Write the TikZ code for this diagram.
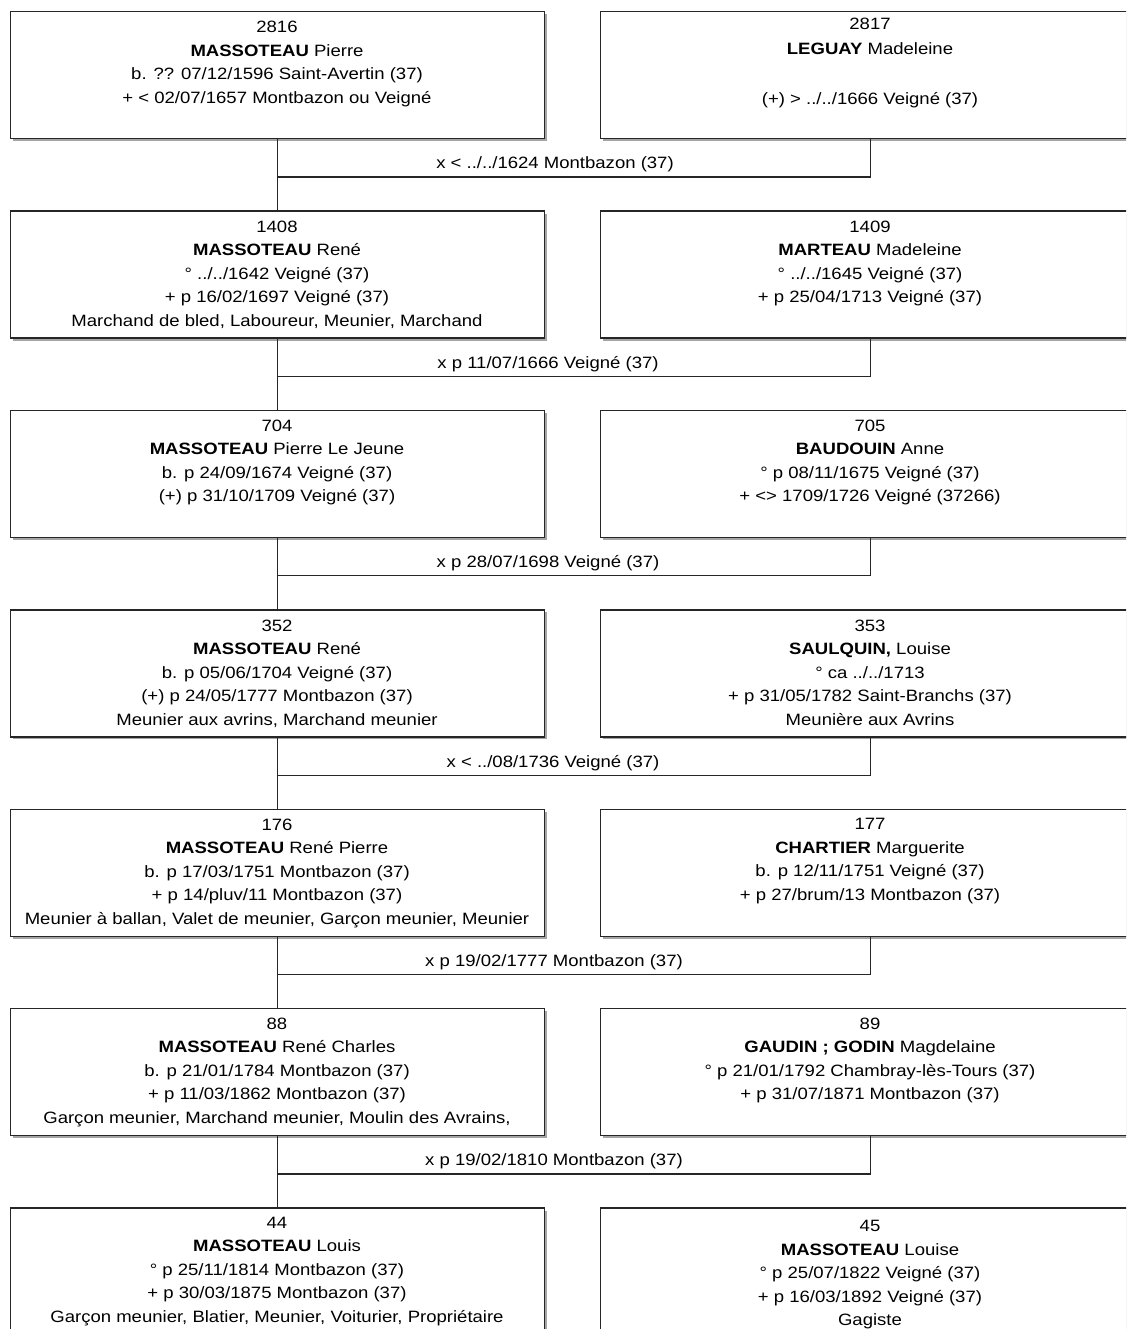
\documentclass[tikz,border=0pt]{standalone}
\usepackage{fontspec}
\setmainfont{Liberation Sans}[FakeStretch=1.13]
\usetikzlibrary{shadows,calc}
\tikzset{
  pbox/.style={draw=black!85, line width=1.3pt, fill=white, anchor=north west,
    minimum height=127pt, inner sep=0pt,
    drop shadow={shadow xshift=2pt, shadow yshift=-2.5pt, fill=black!50, opacity=0.7}},
  lbox/.style={pbox, minimum width=534pt},
  rbox/.style={pbox, minimum width=540pt},
  ptext/.style={anchor=north, inner sep=0pt, align=center,
    font=\fontsize{16.4}{23.5}\selectfont, execute at begin node=\strut},
  mlabel/.style={inner sep=0pt, font=\fontsize{16.4}{20}\selectfont},
  conn/.style={draw=black!85, line width=1.3pt},
}
\begin{document}
\begin{tikzpicture}[x=1pt,y=-1pt]
\useasboundingbox (0,0) rectangle (1126,1329);
\clip (0,0) rectangle (1126,1329);
\fill[white] (0,0) rectangle (1126,1329);

% ---------- boxes ----------
\node[lbox] (L1) at (10,11) {};
\node[rbox] (R1) at (600,11) {};
\node[lbox] (L2) at (10,210.4) {};
\node[rbox] (R2) at (600,210.4) {};
\node[lbox] (L3) at (10,409.8) {};
\node[rbox] (R3) at (600,409.8) {};
\node[lbox] (L4) at (10,609.2) {};
\node[rbox] (R4) at (600,609.2) {};
\node[lbox] (L5) at (10,808.6) {};
\node[rbox] (R5) at (600,808.6) {};
\node[lbox] (L6) at (10,1008) {};
\node[rbox] (R6) at (600,1008) {};
\node[lbox] (L7) at (10,1207.4) {};
\node[rbox] (R7) at (600,1207.4) {};

% ---------- texts ----------
\node[ptext] (tL1) at (277,21.2) {2816\\\textbf{MASSOTEAU} Pierre\\b. ?? 07/12/1596 Saint-Avertin (37)\\+ < 02/07/1657 Montbazon ou Veigné};
\node[ptext, font=\fontsize{16.4}{25}\selectfont] (tR1) at (870,17.4) {2817\\\textbf{LEGUAY} Madeleine\\ \\(+) > ../../1666 Veigné (37)};

\node[ptext] (tL2) at (277,220.6) {1408\\\textbf{MASSOTEAU} René\\° ../../1642 Veigné (37)\\+ p 16/02/1697 Veigné (37)\\Marchand de bled, Laboureur, Meunier, Marchand};
\node[ptext] (tR2) at (870,220.6) {1409\\\textbf{MARTEAU} Madeleine\\° ../../1645 Veigné (37)\\+ p 25/04/1713 Veigné (37)};

\node[ptext] (tL3) at (277,419.6) {704\\\textbf{MASSOTEAU} Pierre Le Jeune\\b. p 24/09/1674 Veigné (37)\\(+) p 31/10/1709 Veigné (37)};
\node[ptext] (tR3) at (870,419.6) {705\\\textbf{BAUDOUIN} Anne\\° p 08/11/1675 Veigné (37)\\+ <> 1709/1726 Veigné (37266)};

\node[ptext] (tL4) at (277,619.4) {352\\\textbf{MASSOTEAU} René\\b. p 05/06/1704 Veigné (37)\\(+) p 24/05/1777 Montbazon (37)\\Meunier aux avrins, Marchand meunier};
\node[ptext] (tR4) at (870,619.4) {353\\\textbf{SAULQUIN,} Louise\\° ca ../../1713\\+ p 31/05/1782 Saint-Branchs (37)\\Meunière aux Avrins};

\node[ptext] (tL5) at (277,818.4) {176\\\textbf{MASSOTEAU} René Pierre\\b. p 17/03/1751 Montbazon (37)\\+ p 14/pluv/11 Montbazon (37)\\Meunier à ballan, Valet de meunier, Garçon meunier, Meunier};
\node[ptext] (tR5) at (870,818.4) {177\\\textbf{CHARTIER} Marguerite\\b. p 12/11/1751 Veigné (37)\\+ p 27/brum/13 Montbazon (37)};

\node[ptext] (tL6) at (277,1017.6) {88\\\textbf{MASSOTEAU} René Charles\\b. p 21/01/1784 Montbazon (37)\\+ p 11/03/1862 Montbazon (37)\\Garçon meunier, Marchand meunier, Moulin des Avrains,};
\node[ptext] (tR6) at (870,1017.6) {89\\\textbf{GAUDIN ; GODIN} Magdelaine\\° p 21/01/1792 Chambray-lès-Tours (37)\\+ p 31/07/1871 Montbazon (37)};

\node[ptext] (tL7) at (277,1216.6) {44\\\textbf{MASSOTEAU} Louis\\° p 25/11/1814 Montbazon (37)\\+ p 30/03/1875 Montbazon (37)\\Garçon meunier, Blatier, Meunier, Voiturier, Propriétaire};
\node[ptext] (tR7) at (870,1220.2) {45\\\textbf{MASSOTEAU} Louise\\° p 25/07/1822 Veigné (37)\\+ p 16/03/1892 Veigné (37)\\Gagiste};

% ---------- junctions ----------
\coordinate (j1) at (277,177);
\coordinate (j2) at (277,376.4);
\coordinate (j3) at (277,575.8);
\coordinate (j4) at (277,775.2);
\coordinate (j5) at (277,974.6);
\coordinate (j6) at (277,1174);

% ---------- connectors ----------
\foreach \i/\n in {1/2,2/3,3/4,4/5,5/6,6/7}{
  \draw[conn] (L\i.south) -- (L\n.north);
  \draw[conn] (R\i.south) |- (j\i);
}

% ---------- marriage labels ----------
\node[mlabel] (M1) at (555,164.5) {x < ../../1624 Montbazon (37)};
\node[mlabel] (M2) at (548,363.9) {x p 11/07/1666 Veigné (37)};
\node[mlabel] (M3) at (548,563.3) {x p 28/07/1698 Veigné (37)};
\node[mlabel] (M4) at (553,762.7) {x < ../08/1736 Veigné (37)};
\node[mlabel] (M5) at (554,962.1) {x p 19/02/1777 Montbazon (37)};
\node[mlabel] (M6) at (554,1161.5) {x p 19/02/1810 Montbazon (37)};
\end{tikzpicture}
\end{document}
